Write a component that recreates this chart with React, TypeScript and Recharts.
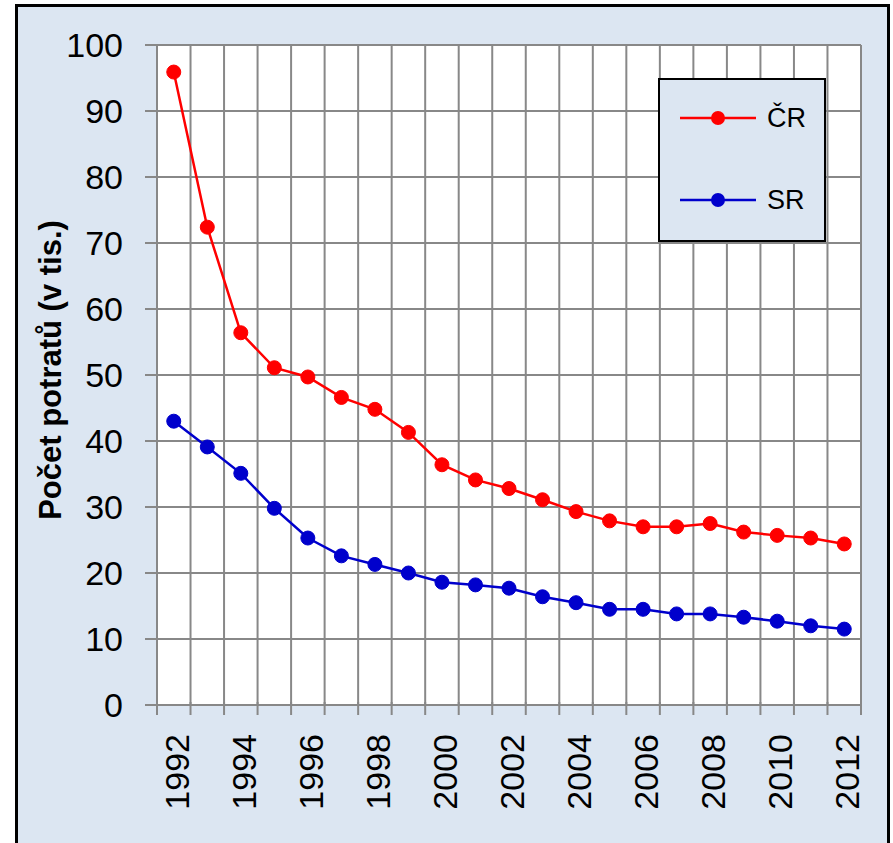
import React from "react"
import {
  LineChart,
  Line,
  XAxis,
  YAxis,
  CartesianGrid,
  Legend,
  Label,
} from "recharts"

const years = [
  1992, 1993, 1994, 1995, 1996, 1997, 1998, 1999, 2000, 2001, 2002,
  2003, 2004, 2005, 2006, 2007, 2008, 2009, 2010, 2011, 2012,
]
const crValues = [
  95.9, 72.4, 56.4, 51.1, 49.7, 46.6, 44.8, 41.3, 36.4, 34.1, 32.8,
  31.1, 29.3, 27.9, 27.0, 27.0, 27.5, 26.2, 25.7, 25.3, 24.4,
]
const srValues = [
  43.0, 39.1, 35.1, 29.8, 25.3, 22.6, 21.3, 20.0, 18.6, 18.2, 17.7,
  16.4, 15.5, 14.5, 14.5, 13.8, 13.8, 13.3, 12.7, 12.0, 11.5,
]
const seriesNames = ["ČR", "SR"]
const yearLabels = [1992, 1994, 1996, 1998, 2000, 2002, 2004, 2006, 2008, 2010, 2012]
const yTicks = [0, 10, 20, 30, 40, 50, 60, 70, 80, 90, 100]

// Excel-style category boundaries: grid lines and tick marks sit between years
const edges = [...years.map((y) => y - 0.5), years[years.length - 1] + 0.5]
const domain: [number, number] = [edges[0], edges[edges.length - 1]]

const data = years.map((year, i) => ({ year, cr: crValues[i], sr: srValues[i] }))

const GRID = "#888888"
const BG = "#dce6f2"
const FONT = "'Liberation Sans', Arial, sans-serif"

function YearTick(props: any) {
  const { x, payload } = props
  const y = props.y - 33
  const v = payload.value as number
  if (!Number.isInteger(v)) {
    return <line x1={x} y1={y} x2={x} y2={y + 13} stroke={GRID} strokeWidth={2} />
  }
  return (
    <g transform={`translate(${x + 3},${y + 32})`}>
      <text transform="rotate(-90)" textAnchor="end" dominantBaseline="central" fontSize={34} fill="#000" fontFamily={FONT}>
        {v}
      </text>
    </g>
  )
}

function YTitle(props: any) {
  const vb = props.viewBox || { x: 17, y: 45, width: 140, height: 660 }
  const cx = vb.x + 33
  const cy = vb.y + vb.height / 2 - 5
  return (
    <text
      x={cx}
      y={cy}
      transform={`rotate(-90, ${cx}, ${cy})`}
      textAnchor="middle"
      dominantBaseline="central"
      fontSize={31}
      fontWeight="bold"
      fill="#000"
      fontFamily={FONT}
    >
      Počet potratů (v tis.)
    </text>
  )
}

function LegendBox(props: any) {
  const items = [...(props.payload || [])].sort(
    (a: any, b: any) => seriesNames.indexOf(a.value) - seriesNames.indexOf(b.value)
  )
  return (
    <div
      style={{
        position: "relative",
        width: 168,
        height: 164,
        boxSizing: "border-box",
        border: "2px solid #000",
        background: BG,
        fontFamily: FONT,
      }}
    >
      {items.map((it: any, i: number) => (
        <div
          key={it.value}
          style={{ position: "absolute", left: 20, top: 38 + i * 82 - 20, height: 40, display: "flex", alignItems: "center" }}
        >
          <svg width={78} height={20} style={{ display: "block" }}>
            <line x1={0} y1={10} x2={76} y2={10} stroke={it.color} strokeWidth={2.5} />
            <circle cx={38} cy={10} r={7} fill={it.color} />
          </svg>
          <span style={{ marginLeft: 9, fontSize: 27, color: "#000", lineHeight: "40px" }}>{it.value}</span>
        </div>
      ))}
    </div>
  )
}

export default function App() {
  return (
    <div style={{ position: "fixed", left: 0, top: 0, width: 893, height: 843, overflow: "hidden", background: "#fff" }}>
      <div
        style={{
          position: "absolute",
          left: 15,
          top: 4,
          width: 875,
          height: 900,
          boxSizing: "border-box",
          border: "3px solid #000",
          background: BG,
        }}
      />
      <div style={{ position: "absolute", left: 0, top: 0 }}>
        <LineChart
          width={893}
          height={843}
          data={data}
          margin={{ top: 45, right: 32, bottom: 18, left: 17 }}
          style={{ fontFamily: FONT }}
        >
          <CartesianGrid xAxisId="edges" stroke={GRID} strokeWidth={2} fill="#fff" fillOpacity={1} />
          <XAxis xAxisId="edges" dataKey="year" type="number" domain={domain} ticks={edges} interval={0} hide />
          <XAxis
            xAxisId="years"
            dataKey="year"
            type="number"
            domain={domain}
            ticks={[...edges, ...yearLabels]}
            interval={0}
            height={120}
            tickLine={false}
            axisLine={false}
            tickSize={0}
            tickMargin={0}
            tick={<YearTick />}
          />
          <YAxis
            domain={[0, 100]}
            ticks={yTicks}
            width={140}
            axisLine={{ stroke: GRID, strokeWidth: 2 }}
            tickLine={{ stroke: GRID, strokeWidth: 2 }}
            tickSize={12}
            tickMargin={22}
            tick={{ fill: "#000", fontSize: 34, fontFamily: FONT }}
          >
            <Label content={<YTitle />} />
          </YAxis>
          <Legend
            layout="vertical"
            align="center"
            verticalAlign="middle"
            wrapperStyle={{ left: 658, top: 78, width: 168, height: 164 }}
            content={<LegendBox />}
          />
          <Line
            xAxisId="years"
            type="linear"
            dataKey="cr"
            name={seriesNames[0]}
            stroke="#ff0000"
            strokeWidth={2.5}
            dot={{ r: 7, fill: "#ff0000", stroke: "#ff0000", strokeWidth: 1 }}
            isAnimationActive={false}
          />
          <Line
            xAxisId="years"
            type="linear"
            dataKey="sr"
            name={seriesNames[1]}
            stroke="#0000cc"
            strokeWidth={2.5}
            dot={{ r: 7, fill: "#0000cc", stroke: "#0000cc", strokeWidth: 1 }}
            isAnimationActive={false}
          />
        </LineChart>
      </div>
    </div>
  )
}
